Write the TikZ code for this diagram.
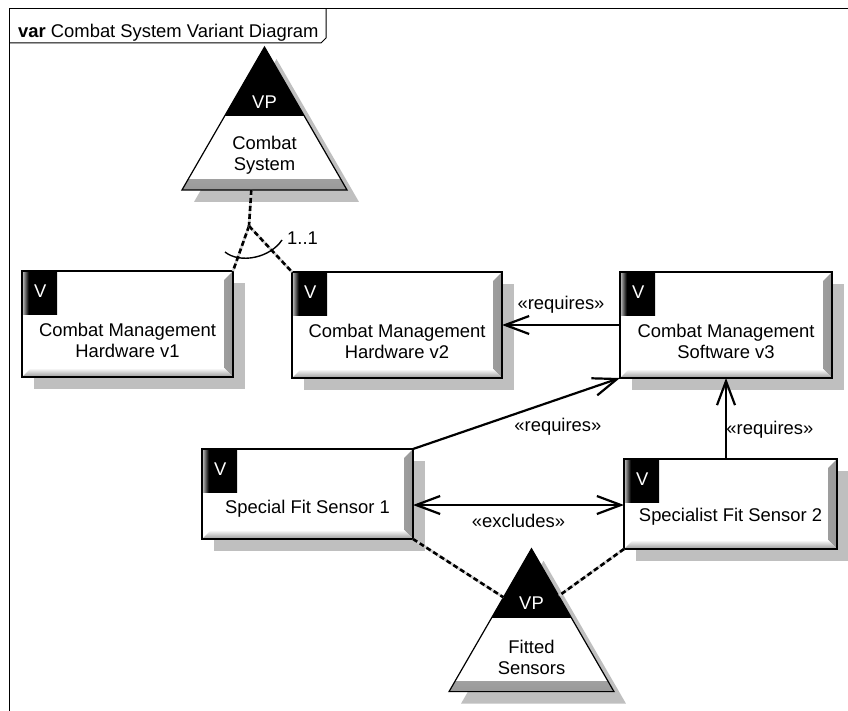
\documentclass[tikz,border=0pt]{standalone}
\usepackage{fontspec}
\setmainfont{Liberation Sans}
\usetikzlibrary{calc,positioning,shapes.geometric,shadows,arrows.meta}

\pgfdeclarehorizontalshading{badgeshade}{100bp}{color(0bp)=(gray!70); color(25bp)=(gray!70); color(33bp)=(black); color(100bp)=(black)}

\begin{document}
\begin{tikzpicture}[
        x=1pt, y=-1pt,
        font=\fontsize{18.4}{21}\selectfont,
        boxshadow/.style={drop shadow={shadow xshift=12pt, shadow yshift=-12pt, fill=black!25, opacity=1}},
        vbox/.style={draw, fill=white, line width=1.2pt, inner sep=0pt, outer sep=0pt,
            minimum width=211, minimum height=106, boxshadow,
            path picture={
                \shade[left color=white, right color=gray!80]
                    ($(path picture bounding box.north east)+(-9pt,-9pt)$) --
                    (path picture bounding box.north east) --
                    (path picture bounding box.south east) --
                    ($(path picture bounding box.south east)+(-9pt,9pt)$) -- cycle;
                \shade[top color=white, bottom color=gray!80]
                    ($(path picture bounding box.south west)+(9pt,9pt)$) --
                    ($(path picture bounding box.south east)+(-9pt,9pt)$) --
                    (path picture bounding box.south east) --
                    (path picture bounding box.south west) -- cycle;
            }},
        badge/.style={shade, shading=badgeshade, text=white, inner sep=0pt,
            minimum width=34, minimum height=42, text depth=4pt, anchor=north west},
        vtext/.style={align=center, inner sep=0pt},
        vp/.style={regular polygon, regular polygon sides=3, minimum size=190.5, inner sep=0pt, outer sep=0pt,
            draw, fill=white, line width=1.2pt, boxshadow,
            path picture={
                \shade[top color=white, bottom color=gray!80]
                    ([yshift=10pt]path picture bounding box.south west) rectangle (path picture bounding box.south east);
                \fill[black] (path picture bounding box.north west) rectangle ([yshift=-69pt]path picture bounding box.north east);
            }},
        vpline/.style={line width=2.6pt, draw=gray!35, postaction={draw=black, line width=2.6pt, dash pattern=on 5pt off 3pt}},
        req/.style={line width=2.2pt, -{Straight Barb[length=24pt, width=18pt]}},
        excl/.style={line width=2.2pt, {Straight Barb[length=24pt, width=18pt]}-{Straight Barb[length=24pt, width=18pt]}},
    ]
    \useasboundingbox (0,0) rectangle (848,711);

    % frame
    \draw[line width=1pt] (9,711) -- (9,9) -- (848,9);
    \draw[line width=1pt] (9,43) -- (321,43) -- (326,38) -- (326,9);
    \node[anchor=base west, inner sep=0pt] (title) at (18,37.5) {\textbf{var} Combat System Variant Diagram};

    % variation points
    \node[vp] (cs) at (264.5,142.3) {};
    \node[vtext, text=white] (csvp) at ($(cs)+(0,-40)$) {VP};
    \node[vtext] (cst) at ($(cs)+(0,13)$) {Combat\\System};

    \node[vp] (fs) at (531.5,644) {};
    \node[vtext, text=white] (fsvp) at ($(fs)+(0,-41)$) {VP};
    \node[vtext] (fst) at ($(fs)+(0,13)$) {Fitted\\Sensors};

    % variants
    \node[vbox] (hw1) at (127.5,324) {};
    \node[badge] (hw1v) at ([shift={(1pt,-1pt)}]hw1.north west) {V};
    \node[vtext] (hw1t) at ($(hw1)+(0,16)$) {Combat Management\\Hardware v1};

    \node[vbox, minimum width=210] (hw2) at (397,325) {};
    \node[badge] (hw2v) at ([shift={(1pt,-1pt)}]hw2.north west) {V};
    \node[vtext] (hw2t) at ($(hw2)+(0,16)$) {Combat Management\\Hardware v2};

    \node[vbox, minimum width=212] (sw3) at (726,325) {};
    \node[badge] (sw3v) at ([shift={(1pt,-1pt)}]sw3.north west) {V};
    \node[vtext] (sw3t) at ($(sw3)+(0,16)$) {Combat Management\\Software v3};

    \node[vbox, minimum height=90] (sfs1) at (307.5,494) {};
    \node[badge] (sfs1v) at ([shift={(1pt,-1pt)}]sfs1.north west) {V};
    \node[vtext] (sfs1t) at ($(sfs1)+(0,15)$) {Special Fit Sensor 1};

    \node[vbox, minimum width=213, minimum height=90] (sfs2) at (730.5,504) {};
    \node[badge] (sfs2v) at ([shift={(1pt,-1pt)}]sfs2.north west) {V};
    \node[vtext] (sfs2t) at ($(sfs2)+(0,13)$) {Specialist Fit Sensor 2};

    % combat system choice
    \coordinate (jn) at (249,226);
    \draw[vpline] ($(cs.corner 2)!0.42!(cs.corner 3)$) -- (jn);
    \draw[vpline] (jn) -- (hw1.north east);
    \draw[vpline] (jn) -- (hw2.north west);
    \draw[line width=1.4pt] ($(jn)+(-24,26)$) .. controls ($(jn)+(-9,38)$) and ($(jn)+(21,32)$) .. ($(jn)+(33,14)$);
    \node[anchor=west, inner sep=0pt] (card) at (287,238) {1..1};

    % constraints
    \draw[req] (sw3.west) -- node[above=7pt] (rq1) {«requires»} (hw2.east);
    \draw[req] (sfs1.north east) -- node[pos=0.7, below=14pt] (rq2) {«requires»} (sw3.south west);
    \draw[req] (sfs2.north -| sw3.south) -- node[pos=0.36, right=-4pt] (rq3) {«requires»} (sw3.south);
    \coordinate (ex1) at ($(sfs1.east)+(0,11)$);
    \draw[excl] (ex1) -- node[below=5pt] (exc) {«excludes»} (ex1 -| sfs2.west);

    % fitted sensors choice
    \draw[vpline] (sfs1.south east) -- ($(fs.corner 1)!0.34!(fs.corner 2)$);
    \draw[vpline] (sfs2.south west) -- ($(fs.corner 1)!0.33!(fs.corner 3)$);
\end{tikzpicture}
\end{document}
